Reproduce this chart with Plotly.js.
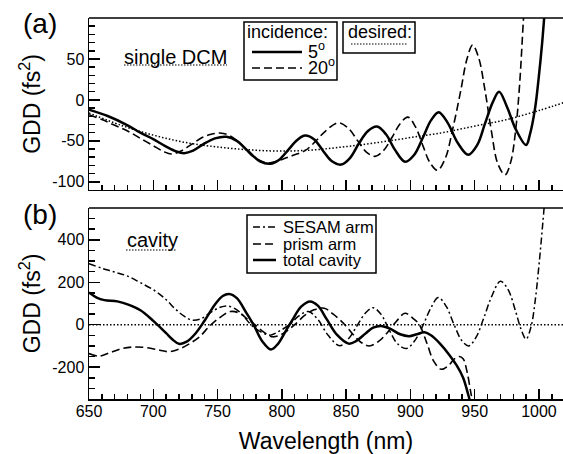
<!DOCTYPE html>
<html>
<head>
<meta charset="utf-8">
<script src="https://cdn.plot.ly/plotly-3.0.1.min.js"></script>
<style>html,body{margin:0;padding:0;background:#fff;}#chart{width:563px;height:454px;}</style>
</head>
<body>
<div id="chart"></div>
<script>
// ---------- data (panel a: single DCM) ----------
const wl5 = [650,665,680,690,700,710,718,724,731,739,748,757,765,774,783,791,798,805,812,818,825,832,839,846,853,860,867,874,881,888,896,903,910,916,922,929,937,945,952,958,964,969,975,982,990,993,997,1000,1002.5,1005];
const gdd5 = [-12,-20,-31,-40,-48,-57,-63,-65,-62,-54,-47,-45,-50,-63,-75,-78,-73,-61,-49,-43.5,-48,-62,-75,-79,-71,-53,-38,-32.6,-42,-61,-75.6,-67,-45,-25,-15,-28,-53,-67,-55,-29,-3,10,-8,-36,-55,-42,-10,30,70,120];

const wl20 = [650,660,670,680,689,700,708,714,722,730,738,745,752,760,768,776,783,789,796,803,810,818,826,834,844,852,859,866,872.5,879,886,892,898,904,910,915,921,927,933,939,944,948.4,953,958,963,968,973.6,978,982,985,988,991];
const gdd20 = [-18,-24,-31,-38,-46,-56,-63,-66,-62,-54,-46,-42,-40.5,-44,-54,-67,-74,-77,-75,-71,-67,-62,-51,-38,-28,-35,-50,-64,-69,-62,-45,-29,-21,-33,-57,-76,-86,-72,-35,10,50,67,52,12,-38,-78,-91.5,-76,-35,20,100,170];

const wlDesired = [650,675,700,725,750,775,800,825,850,875,900,925,950,975,1000,1020];
const gddDesired = [-16,-31,-43,-52,-57.5,-61,-62.5,-61,-57,-52,-46,-40,-32,-24,-13,-3];

// ---------- data (panel b: cavity) ----------
const wlSesam = [650,660,670,680,690,702,710,717,724,730,737,745,752,758,765,770,776,784,791,798,806,813,820.6,828,836,845,852,859,865,871,877,884,890,897,904,910,916,921.7,928,934,940,945.4,951,957,963,970,976,982,986,990,994,997,1000,1003,1006];
const gddSesam = [288,266,248,229,198,157,118,75,40,22,28,60,82,88,70,42,0,-35,-49,-30,0,40,62,25,-50,-99,-65,0,55,80,50,-30,-90,-112,-70,0,80,128,85,0,-75,-100,-60,30,130,205,165,60,-20,-68,-5,110,280,480,700];

const wlPrism = [650,658,667,676,685,695,705,712,720,728,736,744,752,760,767,773,779,786,793,800,806,810,818,825,833,840,849,856,862,868,875,882,889,895.8,902,907,913,918,924,930,934,938,941,944,947,950];
const gddPrism = [-136,-148,-130,-112,-105,-108,-120,-127,-115,-90,-57,-5,35,62,55,28,0,-35,-57,-45,-20,0,45,70,78,50,0,-50,-85,-100,-80,-38,15,54,30,0,-90,-170,-210,-190,-162,-150,-160,-220,-320,-420];

const wlTotal = [650,656,662,672,680,690,700,710,715,720,726,733,740,748,754,759,765,772,778,785,791.5,797,803,808,815,822,828,835,843,852,858,865,871,877,884,892,899,905,911,916,923,930,936,941,945,948];
const gddTotal = [152,128,116,110,96,68,18,-40,-70,-90,-80,-40,20,95,135,145,125,60,0,-80,-117,-90,-30,20,85,110,90,25,-48,-89,-76,-42,-14,-6,-18,-45,-54,-45,-36,-50,-89,-140,-192,-250,-330,-400];

const wlDesiredCav = [650,1020];
const gddDesiredCav = [0,0];

// ---------- labels ----------
const legendTitleA = 'incidence:';
const nameA5 = '5<sup>o</sup>';
const nameA20 = '20<sup>o</sup>';
const legendTitleA2 = 'desired:';
const nameSesam = 'SESAM arm';
const namePrism = 'prism arm';
const nameTotal = 'total cavity';
const ytickA = [-100,-50,0,50];
const ytickB = [-200,0,200,400];
const xTicks = [650,700,750,800,850,900,950,1000];

const FONT = 'Liberation Sans, Arial, Helvetica, sans-serif';
const black = '#000';

// line styles (shared by traces and their legend keys)
const stSolid = {color:black, width:2.5};
const stDash = {color:black, width:1.6, dash:'8px,4px'};
const stDot = {color:black, width:1.5, dash:'1.5px,2px'};
const stDashDot = {color:black, width:1.5, dash:'7px,3px,2px,3px'};
const sp = s => Object.assign({shape:'spline', smoothing:1}, s);

const traces = [
  {x: wl5, y: gdd5, xaxis:'x', yaxis:'y', mode:'lines', name: nameA5, line: sp(stSolid)},
  {x: wl20, y: gdd20, xaxis:'x', yaxis:'y', mode:'lines', name: nameA20, line: sp(stDash)},
  {x: wlDesired, y: gddDesired, xaxis:'x', yaxis:'y', mode:'lines', name: legendTitleA2, line: sp(stDot)},
  {x: wlSesam, y: gddSesam, xaxis:'x2', yaxis:'y2', mode:'lines', name: nameSesam, line: sp(stDashDot)},
  {x: wlPrism, y: gddPrism, xaxis:'x2', yaxis:'y2', mode:'lines', name: namePrism, line: sp(stDash)},
  {x: wlTotal, y: gddTotal, xaxis:'x2', yaxis:'y2', mode:'lines', name: nameTotal, line: sp(stSolid)},
  {x: wlDesiredCav, y: gddDesiredCav, xaxis:'x2', yaxis:'y2', mode:'lines', name:'desired cavity', line: stDot}
];

const xRange = [650, 1018.7];
function xax(showLabels, anchor){
  return {
    range: xRange, anchor: anchor, showline:true, linecolor:black, linewidth:1.5,
    ticks:'inside', ticklen:10, tickwidth:1.5, tickcolor:black,
    tickmode:'array', tickvals: xTicks, ticktext: xTicks.map(String),
    showticklabels: showLabels, showgrid:false, zeroline:false, ticklabelstandoff:-3,
    tickfont:{family:FONT, size:16, color:black},
    minor:{tickmode:'linear', tick0:650, dtick:10, ticks:'inside', ticklen:5, tickwidth:1.5, tickcolor:black, showgrid:false}
  };
}
function yax(domain, range, vals, minorDt, anchor){
  return {
    domain: domain, range: range, anchor: anchor, showline:true, linecolor:black, linewidth:1.5,
    ticks:'inside', ticklen:11, tickwidth:1.5, tickcolor:black,
    tickmode:'array', tickvals: vals, ticktext: vals.map(v => String(v)),
    showgrid:false, zeroline:false, automargin:false,
    tickfont:{family:FONT, size:16, color:black},
    title:{text:'GDD (fs<sup>2</sup>)', font:{family:FONT, size:23, color:black}, standoff:5},
    minor:{tickmode:'linear', tick0:0, dtick:minorDt, ticks:'inside', ticklen:6, tickwidth:1.5, tickcolor:black, showgrid:false}
  };
}

const xa = xax(false, 'y');
const xb = xax(true, 'y2');
xb.title = {text:'Wavelength (nm)', font:{family:FONT, size:23, color:black}, standoff:21};
xb.automargin = false;

// legend-key helpers (pixel positions converted to paper fractions)
const L = 89, T = 18, PW = 474, PH = 381;
const px = v => (v - L) / PW;
const py = v => (T + PH - v) / PH;
const txt = (text, x, y, size) => ({text, xref:'paper', yref:'paper', x:px(x), y:py(y), xanchor:'left', yanchor:'middle',
  showarrow:false, borderpad:0, font:{family:FONT, size, color:black}});
const box = (x0, y0, x1, y1) => ({type:'rect', xref:'paper', yref:'paper', x0:px(x0), x1:px(x1), y0:py(y1), y1:py(y0),
  line:{color:black, width:1.5}, fillcolor:'#fff', layer:'above'});
const key = (x0, x1, y, st) => ({type:'line', xref:'paper', yref:'paper', x0:px(x0), x1:px(x1), y0:py(y), y1:py(y), line:st, layer:'above'});

const layout = {
  width:563, height:454, paper_bgcolor:'#fff', plot_bgcolor:'#fff',
  margin:{l:L, r:0, t:T, b:454 - T - PH},
  font:{family:FONT, color:black},
  showlegend:false,
  xaxis: xa,
  yaxis: yax([0.5486,1], [-110,100], ytickA, 10, 'x'),
  xaxis2: xb,
  yaxis2: yax([0,0.5013], [-350,550], ytickB, 50, 'x2'),
  annotations:[
    {text:'(a)', xref:'paper', yref:'paper', x:px(40), y:py(23), xanchor:'center', yanchor:'middle', showarrow:false,
     font:{family:FONT, size:28, color:black}},
    {text:'(b)', xref:'paper', yref:'paper', x:px(40), y:py(214), xanchor:'center', yanchor:'middle', showarrow:false,
     font:{family:FONT, size:28, color:black}},
    txt('single DCM', 123, 57, 20),
    txt('cavity', 126, 240, 20),
    // legend (a): incidence
    txt(legendTitleA, 246, 32, 18),
    txt(nameA5, 307, 51, 18),
    txt(nameA20, 307, 67, 18),
    // legend (a): desired
    txt(legendTitleA2, 347, 32, 18),
    // legend (b)
    txt(nameSesam, 282, 227, 16.5),
    txt(namePrism, 282, 244, 16.5),
    txt(nameTotal, 282, 260, 16.5)
  ],
  shapes:[
    {type:'line', xref:'x domain', yref:'y domain', x0:0, x1:1, y0:1, y1:1, line:{color:black, width:1.5}},
    {type:'line', xref:'x2 domain', yref:'y2 domain', x0:0, x1:1, y0:1, y1:1, line:{color:black, width:1.5}},
    key(124, 227, 65, {color:black, width:1.2, dash:'1.5px,1.5px'}),
    key(126, 177, 250, {color:black, width:1.2, dash:'1.5px,1.5px'}),
    box(244, 22, 337, 80),
    key(252, 302, 52, stSolid),
    key(252, 302, 68, stDash),
    box(343, 22, 415, 53),
    key(351, 407, 44, {color:black, width:1.2, dash:'1.5px,1.5px'}),
    box(247, 215, 376, 273),
    key(253, 276, 227, stDashDot),
    key(253, 276, 244, stDash),
    key(253, 276, 260, stSolid)
  ]
};

Plotly.newPlot('chart', traces, layout, {staticPlot:true, displayModeBar:false});
</script>
</body>
</html>
